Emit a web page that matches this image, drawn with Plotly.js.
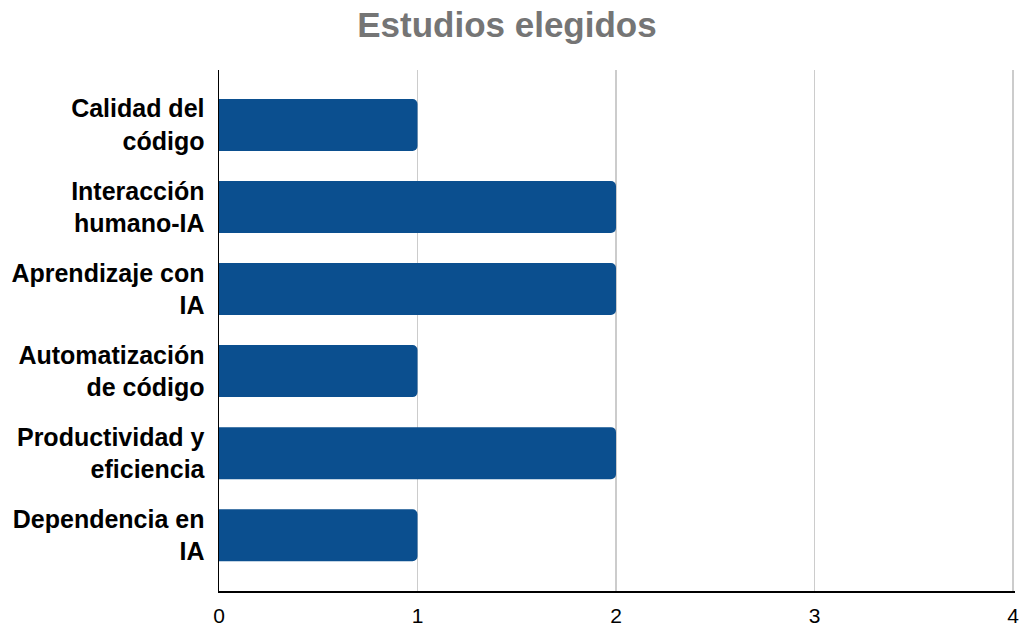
<!DOCTYPE html>
<html>
<head>
<meta charset="utf-8">
<script src="https://cdn.plot.ly/plotly-3.0.1.min.js"></script>
<style>html,body{margin:0;padding:0;background:#fff}#chart{width:1020px;height:628px}</style>
</head>
<body>
<div id="chart"></div>
<script>
const categories = [
  "Calidad del<br>código",
  "Interacción<br>humano-IA",
  "Aprendizaje con<br>IA",
  "Automatización<br>de código",
  "Productividad y<br>eficiencia",
  "Dependencia en<br>IA"
];
const values = [1, 2, 2, 1, 2, 1];
const xTicks = [0, 1, 2, 3, 4];

const trace = {
  type: 'bar',
  orientation: 'h',
  y: categories,
  x: values,
  marker: {color: '#0b4f8f', cornerradius: 5, line: {width: 0}},
  hoverinfo: 'x+y'
};

const layout = {
  width: 1020, height: 628,
  margin: {l: 219, r: 5, t: 70, b: 37},
  paper_bgcolor: '#ffffff', plot_bgcolor: '#ffffff',
  bargap: 0.366,
  showlegend: false,
  title: {
    text: '<b>Estudios elegidos</b>',
    font: {family: 'Liberation Sans, Arial, sans-serif', size: 35, color: '#757575'},
    x: 0.497, xanchor: 'center', y: 0.96, yanchor: 'middle'
  },
  xaxis: {
    range: [0, 4.01], tickvals: xTicks, ticktext: xTicks.map(String),
    showgrid: true, gridcolor: '#cccccc', gridwidth: 1.3,
    zeroline: false, showline: true, linecolor: '#000000', linewidth: 1.5,
    ticks: 'outside', ticklen: 5, tickcolor: 'rgba(0,0,0,0)',
    tickfont: {family: 'Liberation Sans, Arial, sans-serif', size: 21, color: '#000000'},
    fixedrange: true
  },
  yaxis: {
    type: 'category', range: [5.68, -0.67],
    showgrid: false, zeroline: false, showline: true, linecolor: '#000000', linewidth: 1.5,
    ticks: 'outside', ticklen: 8, tickcolor: 'rgba(0,0,0,0)',
    tickfont: {family: 'Liberation Sans, Arial, sans-serif', size: 25, color: '#000000', weight: 'bold'},
    fixedrange: true
  }
};

Plotly.newPlot('chart', [trace], layout, {displayModeBar: false, staticPlot: true});
</script>
</body>
</html>
